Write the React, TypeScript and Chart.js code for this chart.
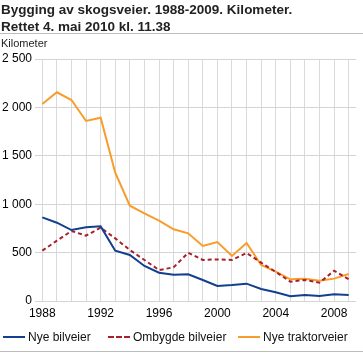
import React, { useEffect, useRef } from "react";
import { Chart, registerables } from "chart.js";

Chart.register(...registerables);

const years = ["1988","1989","1990","1991","1992","1993","1994","1995","1996","1997","1998","1999","2000","2001","2002","2003","2004","2005","2006","2007","2008","2009"];
const nyeBilveier = [864, 809, 733, 761, 771, 520, 475, 362, 292, 272, 276, 217, 155, 165, 179, 124, 90, 49, 62, 52, 69, 62];
const ombygdeBilveier = [520, 623, 723, 675, 758, 647, 527, 424, 320, 348, 499, 424, 430, 424, 496, 396, 300, 200, 217, 189, 313, 224];
const nyeTraktorveier = [2035, 2156, 2076, 1860, 1894, 1326, 985, 906, 830, 741, 699, 568, 609, 465, 599, 372, 303, 224, 231, 210, 231, 279];
const seriesNames = ["Nye bilveier", "Ombygde bilveier", "Nye traktorveier"];
const yTicksMax = 2500;
const yStep = 500;

const BLUE = "#123f8e";
const RED = "#a7202c";
const ORANGE = "#f89c2b";
const FONT = "Arial, 'Liberation Sans', sans-serif";

export default function App() {
  const ref = useRef<HTMLCanvasElement | null>(null);
  useEffect(() => {
    if (!ref.current) return;
    const chart = new Chart(ref.current, {
      type: "line",
      data: {
        labels: years,
        datasets: [
          { label: seriesNames[0], data: nyeBilveier, borderColor: BLUE, borderWidth: 2, pointRadius: 0, tension: 0, fill: false },
          { label: seriesNames[1], data: ombygdeBilveier, borderColor: RED, borderWidth: 2, borderDash: [4, 3], pointRadius: 0, tension: 0, fill: false },
          { label: seriesNames[2], data: nyeTraktorveier, borderColor: ORANGE, borderWidth: 2, pointRadius: 0, tension: 0, fill: false },
        ],
      },
      options: {
        responsive: false,
        animation: false,
        layout: { padding: { top: 59, right: 7, bottom: 32, left: 0 } },
        plugins: { legend: { display: false }, tooltip: { enabled: false }, title: { display: false } },
        scales: {
          x: {
            type: "category",
            offset: true,
            grid: { offset: false, color: "#dadada", lineWidth: 1, drawTicks: false },
            border: { display: false },
            ticks: {
              autoSkip: false,
              maxRotation: 0,
              padding: 5,
              color: "#000",
              font: { family: FONT, size: 12 },
              callback: (_v: any, i: number) => (i % 4 === 0 ? years[i] : ""),
            },
            afterFit: (s: any) => { s.height = 20; },
          },
          y: {
            min: 0,
            max: yTicksMax,
            grid: { color: "#d4d4d4", lineWidth: 1, drawTicks: false },
            border: { display: false },
            ticks: {
              stepSize: yStep,
              padding: 3,
              color: "#000",
              font: { family: FONT, size: 12 },
              callback: (v: any) => String(v).replace(/\B(?=(\d{3})+(?!\d))/g, " "),
            },
            afterFit: (s: any) => { s.width = 35; },
          },
        },
      },
    });
    return () => chart.destroy();
  }, []);

  const legendItem = (color: string, dashed: boolean, label: string, left: number) => (
    <div style={{ position: "absolute", left, top: 329, height: 16, display: "flex", alignItems: "center", whiteSpace: "nowrap" }}>
      <span style={{ display: "inline-block", width: 22, height: 0, borderTop: `2px ${dashed ? "dashed" : "solid"} ${color}`, marginRight: 3 }} />
      <span style={{ fontFamily: FONT, fontSize: 12, color: "#111" }}>{label}</span>
    </div>
  );

  return (
    <div style={{ position: "absolute", left: 0, top: 0, width: 363, height: 353, background: "#fff", overflow: "hidden" }}>
      <canvas ref={ref} width={363} height={353} style={{ position: "absolute", left: 0, top: 0, width: 363, height: 353 }} />
      <div style={{ position: "absolute", left: 1, top: 1, fontFamily: FONT, fontWeight: "bold", fontSize: 13.5, lineHeight: "17px", color: "#222" }}>
        Bygging av skogsveier. 1988-2009. Kilometer.<br />Rettet 4. mai 2010 kl. 11.38
      </div>
      <div style={{ position: "absolute", left: 0, top: 33, width: 363, height: 0, borderTop: "1px solid #bdbdbd" }} />
      <div style={{ position: "absolute", left: 1, top: 36, fontFamily: FONT, fontSize: 11, lineHeight: "14px", color: "#222" }}>Kilometer</div>
      {legendItem(BLUE, false, seriesNames[0], 3)}
      {legendItem(RED, true, seriesNames[1], 108)}
      {legendItem(ORANGE, false, seriesNames[2], 238)}
      <div style={{ position: "absolute", left: 0, top: 351, width: 363, height: 0, borderTop: "1px solid #bdbdbd" }} />
    </div>
  );
}
